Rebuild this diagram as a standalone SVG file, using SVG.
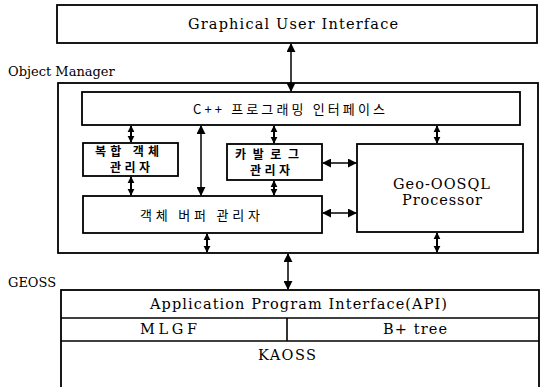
<svg xmlns="http://www.w3.org/2000/svg" width="541" height="387" viewBox="0 0 541 387">
<defs>
<style>
.box{fill:#fff;stroke:#000;stroke-width:1.8}
.ln{fill:none;stroke:#000;stroke-width:1.6}
.en{font-family:"DejaVu Serif","Liberation Serif",serif;font-size:14.5px;fill:#000}
.lb{font-family:"DejaVu Serif","Liberation Serif",serif;font-size:13px;fill:#000}
.ko{font-family:"Noto Sans CJK KR","Noto Sans",sans-serif;font-size:13px;fill:#000}
.ks{font-family:"Noto Sans CJK KR","Noto Sans",sans-serif;font-size:12px;font-weight:bold;fill:#000}
.ar{fill:none;stroke:#000;stroke-width:1.5;marker-start:url(#a);marker-end:url(#a)}
.sa{fill:none;stroke:#000;stroke-width:2;marker-start:url(#b);marker-end:url(#b)}
</style>
<marker id="a" viewBox="0 0 10 10" refX="9" refY="5" markerWidth="9" markerHeight="9" markerUnits="userSpaceOnUse" orient="auto-start-reverse">
<path d="M0,0 L10,5 L0,10 Z" fill="#000"/>
</marker>
<marker id="b" viewBox="0 0 10 10" refX="9" refY="5" markerWidth="7" markerHeight="8" markerUnits="userSpaceOnUse" orient="auto-start-reverse">
<path d="M0,0 L10,5 L0,10 Z" fill="#000"/>
</marker>
</defs>
<rect width="541" height="387" fill="#fff"/>

<g id="gui">
<rect class="box" x="57" y="5" width="480" height="38"/>
<text class="en" x="188" y="29" textLength="210" lengthAdjust="spacing">Graphical User Interface</text>
</g>

<g id="object-manager">
<text class="lb" x="8" y="76">Object Manager</text>
<rect class="box" x="58" y="83" width="480" height="170"/>
</g>

<g id="cpp-interface">
<rect class="box" x="82" y="92" width="438" height="33"/>
<text class="ko" x="193" y="114" textLength="192" lengthAdjust="spacing">C++ 프로그래밍 인터페이스</text>
</g>

<g id="complex-object-manager">
<rect class="box" x="83" y="143" width="95" height="33"/>
<text class="ks" x="95" y="156" textLength="64" lengthAdjust="spacing">복합 객체</text>
<text class="ks" x="110" y="172" textLength="40" lengthAdjust="spacing">관리자</text>
</g>

<g id="catalog-manager">
<rect class="box" x="227" y="144" width="95" height="36"/>
<text class="ks" x="235" y="159" textLength="64" lengthAdjust="spacing">카발로그</text>
<text class="ks" x="250" y="175" textLength="40" lengthAdjust="spacing">관리자</text>
</g>

<g id="geo-oosql">
<rect class="box" x="357" y="144" width="166" height="88"/>
<text class="en" x="393" y="189" textLength="97" lengthAdjust="spacing">Geo-OOSQL</text>
<text class="en" x="402" y="205" textLength="80" lengthAdjust="spacing">Processor</text>
</g>

<g id="object-buffer-manager">
<rect class="box" x="83" y="196" width="239" height="37"/>
<text class="ko" x="140" y="220" textLength="120" lengthAdjust="spacing">객체 버퍼 관리자</text>
</g>

<g id="geoss">
<text class="lb" x="8" y="287">GEOSS</text>
<rect class="box" x="61" y="290" width="478" height="110"/>
<line class="ln" x1="61" y1="318" x2="539" y2="318"/>
<line class="ln" x1="61" y1="341" x2="539" y2="341"/>
<line class="ln" x1="287" y1="318" x2="287" y2="341"/>
<text class="en" x="150" y="309" textLength="297" lengthAdjust="spacing">Application Program Interface(API)</text>
<text class="en" x="140" y="334" textLength="57" lengthAdjust="spacing">MLGF</text>
<text class="en" x="383" y="334" textLength="64" lengthAdjust="spacing">B+ tree</text>
<text class="en" x="258" y="360" textLength="58" lengthAdjust="spacing">KAOSS</text>
</g>

<g id="connectors">
<line class="ar" x1="291" y1="44" x2="291" y2="91"/>
<line class="ar" x1="201" y1="126" x2="201" y2="195"/>
<line class="ar" x1="288" y1="254" x2="288" y2="289"/>
<line class="ar" x1="323" y1="163" x2="356" y2="163"/>
<line class="ar" x1="323" y1="213" x2="356" y2="213"/>
<line class="sa" x1="131" y1="126" x2="131" y2="142"/>
<line class="sa" x1="131" y1="177" x2="131" y2="195"/>
<line class="sa" x1="274" y1="126" x2="274" y2="143"/>
<line class="sa" x1="274" y1="181" x2="274" y2="195"/>
<line class="sa" x1="437" y1="126" x2="437" y2="143"/>
<line class="sa" x1="207" y1="234" x2="207" y2="252"/>
<line class="sa" x1="437" y1="233" x2="437" y2="252"/>
</g>
</svg>
